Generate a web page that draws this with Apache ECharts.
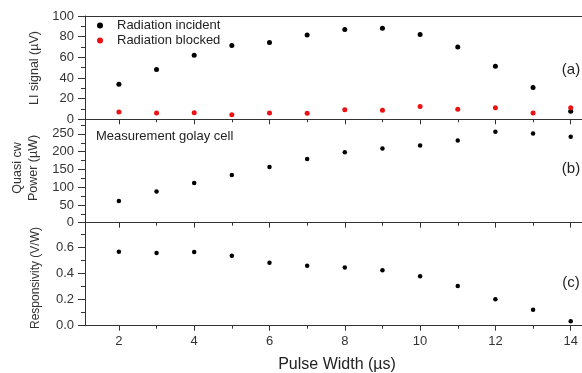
<!DOCTYPE html>
<html>
<head>
<meta charset="utf-8">
<script src="https://cdn.jsdelivr.net/npm/echarts@6/dist/echarts.min.js"></script>
<style>
  html, body { margin: 0; padding: 0; background: #fff; }
  #chart { width: 582px; height: 373px; }
</style>
</head>
<body>
<div id="chart"></div>
<script>
// pulse width (µs)
const pulseWidth = [2, 3, 4, 5, 6, 7, 8, 9, 10, 11, 12, 13, 14];
const evenTicks = [2, 4, 6, 8, 10, 12, 14];
const oddTicks = [3, 5, 7, 9, 11, 13];

// (a) lock-in signal (µV)
const incident = [34, 48.3, 62, 71.4, 74.3, 81.7, 86.9, 88.1, 82, 70.1, 51.4, 30.9, 7.7];
const blocked = [7, 6.1, 6.4, 4.4, 6.1, 5.8, 9.3, 8.7, 12.5, 9.7, 11.2, 6.1, 11.2];

// (b) quasi cw power (µW)
const power = [61, 87.5, 112, 134.5, 157, 179.6, 198.5, 208.7, 217, 231, 255.8, 251, 241.7];

// (c) responsivity (V/W)
const responsivity = [0.567, 0.557, 0.565, 0.536, 0.482, 0.459, 0.446, 0.426, 0.38, 0.305, 0.203, 0.123, 0.034];

const pair = (ys) => pulseWidth.map((x, i) => [x, ys[i]]);

const font = 'Liberation Sans, Arial, sans-serif';
const ink = '#333';
const xMin = 1.1, xMax = 14.3;

const panels = [
  { top: 16, height: 103.3 },
  { top: 119.3, height: 103.4 },
  { top: 222.7, height: 103 }
];

const grids = [];
panels.forEach(p => grids.push({ left: 85, right: 0, top: p.top, height: p.height }));
// twin grids carry the short odd-value ticks
panels.forEach(p => grids.push({ left: 85, right: 0, top: p.top, height: p.height }));

const xAxes = [];
panels.forEach((p, i) => {
  xAxes.push({
    type: 'value', gridIndex: i, position: 'bottom', min: xMin, max: xMax,
    axisLine: { show: true, onZero: false, lineStyle: { color: ink, width: 1 } },
    axisTick: { show: true, inside: false, length: 5, customValues: evenTicks, lineStyle: { color: ink } },
    axisLabel: i === 2
      ? { show: true, customValues: evenTicks, margin: 9, color: ink, fontSize: 13, fontFamily: font }
      : { show: false },
    splitLine: { show: false }
  });
});
panels.forEach((p, i) => {
  xAxes.push({
    type: 'value', gridIndex: i + 3, position: 'bottom', min: xMin, max: xMax,
    axisLine: { show: false, onZero: false },
    axisTick: { show: true, inside: false, length: 3, customValues: oddTicks, lineStyle: { color: ink } },
    axisLabel: { show: false },
    splitLine: { show: false }
  });
});
// top frame line of panel (a)
xAxes.push({
  type: 'value', gridIndex: 0, position: 'top', min: xMin, max: xMax,
  axisLine: { show: true, onZero: false, lineStyle: { color: ink, width: 1 } },
  axisTick: { show: false }, axisLabel: { show: false }, splitLine: { show: false }
});

const yCommon = (grid, min, max, interval, fmt) => ({
  type: 'value', gridIndex: grid, min, max, interval,
  axisLine: { show: true, onZero: false, lineStyle: { color: ink, width: 1 } },
  axisTick: { show: true, inside: false, length: 7, lineStyle: { color: ink } },
  minorTick: { show: true, splitNumber: 2, length: 4, lineStyle: { color: ink } },
  axisLabel: { color: ink, fontSize: 13, fontFamily: font, margin: 11, showMaxLabel: grid === 0, formatter: fmt },
  splitLine: { show: false }
});

const yAxes = [
  yCommon(0, 0, 100, 20),
  yCommon(1, 0, 291, 50),
  yCommon(2, 0, 0.79, 0.2, v => v.toFixed(1))
];
for (let i = 3; i < 6; i++) {
  yAxes.push({ type: 'value', gridIndex: i, min: 0, max: 1, show: false });
}

const option = {
  backgroundColor: '#fff',
  animation: false,
  textStyle: { fontFamily: font },
  grid: grids,
  xAxis: xAxes,
  yAxis: yAxes,
  legend: {
    orient: 'vertical', left: 92, top: 13,
    itemWidth: 24, itemHeight: 6, itemGap: 0,
    icon: 'circle',
    textStyle: { fontSize: 13, color: '#222', fontFamily: font, lineHeight: 15 },
    data: ['Radiation incident', 'Radiation blocked']
  },
  series: [
    {
      name: 'Radiation incident', type: 'scatter', xAxisIndex: 0, yAxisIndex: 0,
      data: pair(incident), symbol: 'circle', symbolSize: 5,
      itemStyle: { color: '#000', opacity: 1 }
    },
    {
      name: 'Radiation blocked', type: 'scatter', xAxisIndex: 0, yAxisIndex: 0,
      data: pair(blocked), symbol: 'circle', symbolSize: 5,
      itemStyle: { color: '#ee1111', opacity: 1 }
    },
    {
      name: 'Power', type: 'scatter', xAxisIndex: 1, yAxisIndex: 1,
      data: pair(power), symbol: 'circle', symbolSize: 4.5,
      itemStyle: { color: '#000', opacity: 1 }
    },
    {
      name: 'Responsivity', type: 'scatter', xAxisIndex: 2, yAxisIndex: 2,
      data: pair(responsivity), symbol: 'circle', symbolSize: 4.5,
      itemStyle: { color: '#000', opacity: 1 }
    }
  ],
  graphic: [
    { type: 'text', x: 35, y: 68, rotation: Math.PI / 2,
      style: { text: 'LI signal (µV)', font: '12.5px ' + font, fill: ink, align: 'center', verticalAlign: 'middle' } },
    { type: 'text', x: 18, y: 168, rotation: Math.PI / 2,
      style: { text: 'Quasi cw', font: '12.5px ' + font, fill: ink, align: 'center', verticalAlign: 'middle' } },
    { type: 'text', x: 34, y: 168, rotation: Math.PI / 2,
      style: { text: 'Power (µW)', font: '12.5px ' + font, fill: ink, align: 'center', verticalAlign: 'middle' } },
    { type: 'text', x: 36, y: 278, rotation: Math.PI / 2,
      style: { text: 'Responsivity (V/W)', font: '12px ' + font, fill: ink, align: 'center', verticalAlign: 'middle' } },
    { type: 'text', x: 337, y: 365,
      style: { text: 'Pulse Width (µs)', font: '16px ' + font, fill: '#222', align: 'center', verticalAlign: 'middle' } },
    { type: 'text', x: 96, y: 136,
      style: { text: 'Measurement golay cell', font: '13px ' + font, fill: '#222', align: 'left', verticalAlign: 'middle' } },
    { type: 'text', x: 571, y: 70,
      style: { text: '(a)', font: '15px ' + font, fill: '#222', align: 'center', verticalAlign: 'middle' } },
    { type: 'text', x: 571, y: 169,
      style: { text: '(b)', font: '15px ' + font, fill: '#222', align: 'center', verticalAlign: 'middle' } },
    { type: 'text', x: 571, y: 283,
      style: { text: '(c)', font: '15px ' + font, fill: '#222', align: 'center', verticalAlign: 'middle' } }
  ]
};

const chart = echarts.init(document.getElementById('chart'), null, { renderer: 'canvas' });
chart.setOption(option);
</script>
</body>
</html>
